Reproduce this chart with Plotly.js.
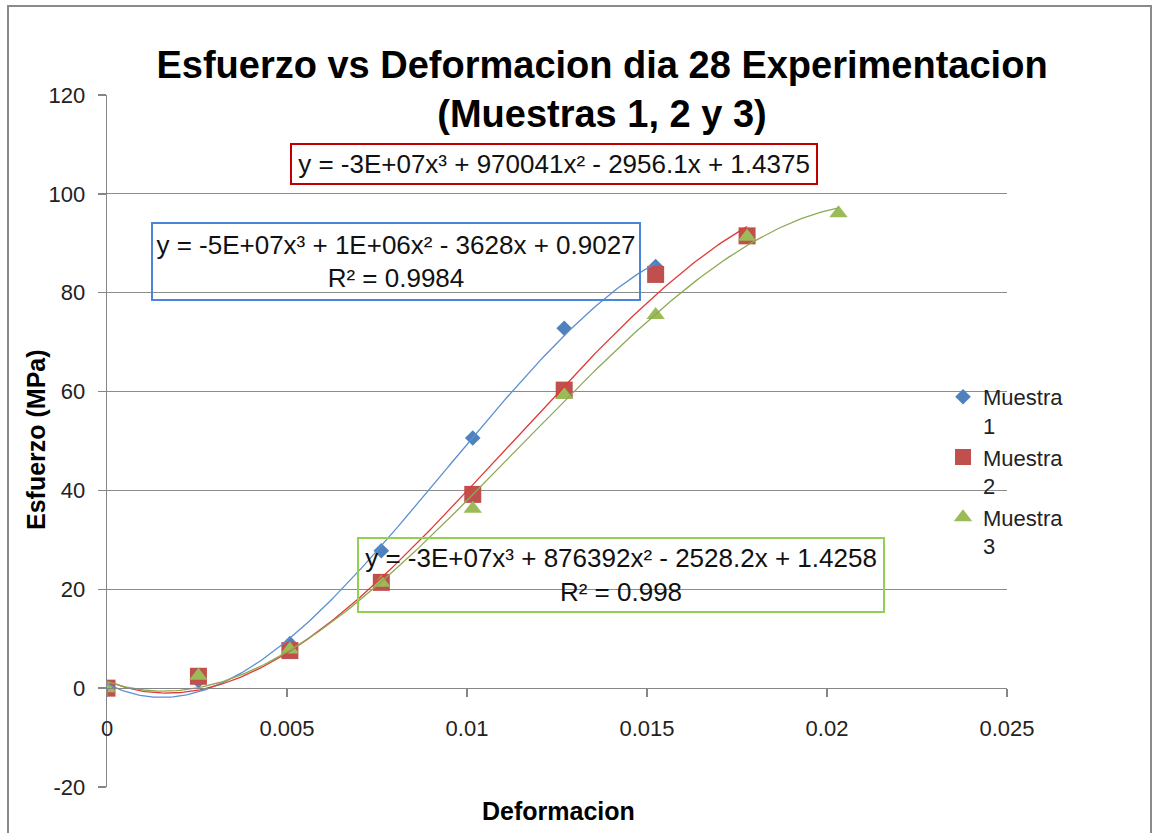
<!DOCTYPE html>
<html>
<head>
<meta charset="utf-8">
<script src="https://cdn.plot.ly/plotly-3.0.1.min.js"></script>
<style>html,body{margin:0;padding:0;background:#fff;}#chart{width:1154px;height:833px;}</style>
</head>
<body>
<div id="chart"></div>
<script>
// ---- data ----
const deformacion = [0, 0.00254, 0.00508, 0.00762, 0.01016, 0.0127, 0.01524, 0.01778, 0.02032];
const muestra1 = [0, 1.5, 9.0, 27.8, 50.6, 72.8, 85.3];
const muestra2 = [0, 2.4, 7.6, 21.4, 39.2, 60.3, 83.7, 91.5];
const muestra3 = [0, 2.5, 7.8, 21.3, 36.3, 59.3, 75.5, 91.3, 96.1];
const seriesNames = ["Muestra<br>1", "Muestra<br>2", "Muestra<br>3"];
const yTickVals = [-20, 0, 20, 40, 60, 80, 100, 120];
const yTickText = ["-20", "0", "20", "40", "60", "80", "100", "120"];
const eqText1 = "y = -5E+07x³ + 1E+06x² - 3628x + 0.9027<br>R² = 0.9984";
const eqText2 = "y = -3E+07x³ + 970041x² - 2956.1x + 1.4375";
const eqText3 = "y = -3E+07x³ + 876392x² - 2528.2x + 1.4258<br>R² = 0.998";
const titleText = "Esfuerzo vs Deformacion dia 28 Experimentacion<br>(Muestras 1, 2 y 3)";
const xTitle = "Deformacion";
const yTitle = "Esfuerzo (MPa)";

// ---- cubic least-squares trendline (like Excel polynomial order 3) ----
function polyfit3(xs, ys) {
  const s = 100; // scale for conditioning
  const n = 4;
  const A = Array.from({length: n}, () => new Array(n + 1).fill(0));
  for (let k = 0; k < xs.length; k++) {
    const u = xs[k] * s;
    const p = [1, u, u * u, u * u * u];
    for (let i = 0; i < n; i++) {
      for (let j = 0; j < n; j++) A[i][j] += p[i] * p[j];
      A[i][n] += p[i] * ys[k];
    }
  }
  for (let c = 0; c < n; c++) {
    let piv = c;
    for (let r = c + 1; r < n; r++) if (Math.abs(A[r][c]) > Math.abs(A[piv][c])) piv = r;
    [A[c], A[piv]] = [A[piv], A[c]];
    for (let r = 0; r < n; r++) {
      if (r === c) continue;
      const f = A[r][c] / A[c][c];
      for (let j = c; j <= n; j++) A[r][j] -= f * A[c][j];
    }
  }
  const coef = A.map((row, i) => row[n] / row[i]);
  return x => { const u = x * s; return coef[0] + coef[1] * u + coef[2] * u * u + coef[3] * u * u * u; };
}
function trend(ys) {
  const xs = deformacion.slice(0, ys.length);
  const f = polyfit3(xs, ys);
  const xmax = xs[xs.length - 1];
  const tx = [], ty = [];
  for (let i = 0; i <= 200; i++) { const x = xmax * i / 200; tx.push(x); ty.push(f(x)); }
  return {tx, ty};
}

const colors = ["#4F81BD", "#C0504D", "#9BBB59"];
const lineColors = ["#5B8FD0", "#E03A36", "#8DAA55"];
const symbols = ["diamond", "square", "triangle-up"];
const sizes = [12, 17, 16];
const allY = [muestra1, muestra2, muestra3];

const FONT = "Liberation Sans, Arial, sans-serif";
const traces = [];
allY.forEach((ys, i) => {
  traces.push({
    x: deformacion.slice(0, ys.length), y: ys, type: "scatter", mode: "markers",
    name: seriesNames[i],
    marker: {symbol: symbols[i], color: colors[i], size: sizes[i], line: {width: 0}},
    hoverinfo: "x+y"
  });
});
allY.forEach((ys, i) => {
  const t = trend(ys);
  traces.push({
    x: t.tx, y: t.ty, type: "scatter", mode: "lines", showlegend: false,
    line: {color: lineColors[i], width: 1.3}, hoverinfo: "skip"
  });
});

function px2x(px) { return (px - 107) / 900; }
function py2y(py) { return (787 - py) / 692; }

const eqFont = {family: FONT, size: 26, color: "#111"};
const layout = {
  width: 1154, height: 833,
  margin: {l: 107, r: 147, t: 95, b: 46},
  paper_bgcolor: "#ffffff", plot_bgcolor: "#ffffff",
  font: {family: FONT, color: "#222", size: 22},
  showlegend: true,
  title: {
    text: "<b>" + titleText + "</b>",
    font: {family: FONT, size: 38, color: "#000"},
    x: 602 / 1154, xanchor: "center", xref: "container",
    y: 1 - 78 / 833, yanchor: "top", yref: "container"
  },
  xaxis: {
    range: [0, 0.025], tick0: 0, dtick: 0.005,
    anchor: "free", position: 20 / 140,
    showline: true, linecolor: "#868686", linewidth: 1.3,
    ticks: "outside", ticklen: 8, tickcolor: "#868686", tickwidth: 1.3,
    ticklabelstandoff: 12,
    showgrid: false, zeroline: false,
    tickfont: {family: FONT, size: 22, color: "#222"}
  },
  yaxis: {
    range: [-20, 120], tickmode: "array", tickvals: yTickVals, ticktext: yTickText,
    showline: true, linecolor: "#868686", linewidth: 1.3,
    ticks: "outside", ticklen: 8, tickcolor: "#868686", tickwidth: 1.3,
    ticklabelstandoff: 8,
    showgrid: true, gridcolor: "#8C8C8C", gridwidth: 1.2, zeroline: false,
    tickfont: {family: FONT, size: 22, color: "#222"}
  },
  legend: {
    x: px2x(943), y: py2y(376), xanchor: "left", yanchor: "top",
    bgcolor: "rgba(0,0,0,0)", valign: "top",
    font: {family: FONT, size: 22, color: "#222"},
    itemwidth: 30, tracegroupgap: 0
  },
  annotations: [
    {text: "<b>" + yTitle + "</b>", xref: "paper", yref: "paper", x: px2x(36), y: py2y(440),
     xanchor: "center", yanchor: "middle",
     textangle: -90, showarrow: false, font: {family: FONT, size: 25, color: "#000"}},
    {text: "<b>" + xTitle + "</b>", xref: "paper", yref: "paper", x: px2x(558), y: py2y(811),
     xanchor: "center", yanchor: "middle",
     showarrow: false, font: {family: FONT, size: 25, color: "#000"}},
    {text: eqText2, xref: "paper", yref: "paper", x: px2x(554), y: py2y(164),
     xanchor: "center", yanchor: "middle",
     showarrow: false, font: eqFont,
     bordercolor: "#C00000", borderwidth: 2, borderpad: 2, width: 520, height: 34},
    {text: eqText1, xref: "paper", yref: "paper", x: px2x(396), y: py2y(261.5),
     xanchor: "center", yanchor: "middle",
     showarrow: false, font: eqFont,
     bordercolor: "#4A86D8", borderwidth: 2, borderpad: 2, width: 482, height: 71},
    {text: eqText3, xref: "paper", yref: "paper", x: px2x(621), y: py2y(575),
     xanchor: "center", yanchor: "middle",
     showarrow: false, font: eqFont,
     bordercolor: "#92D050", borderwidth: 2, borderpad: 2, width: 520, height: 68}
  ],
  shapes: [
    {type: "rect", xref: "paper", yref: "paper", x0: px2x(8), x1: px2x(1151), y0: py2y(900), y1: py2y(6),
     line: {color: "#8A8A8A", width: 2}, fillcolor: "rgba(0,0,0,0)", layer: "above"}
  ]
};

Plotly.newPlot("chart", traces, layout, {displayModeBar: false, staticPlot: true});
</script>
</body>
</html>
